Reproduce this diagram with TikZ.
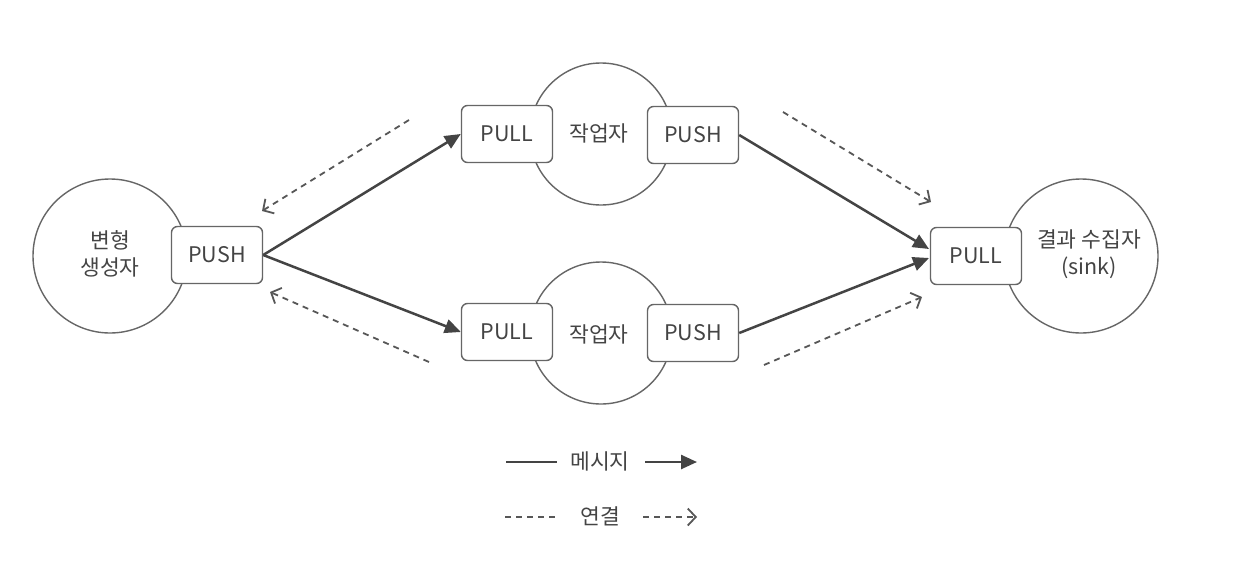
\documentclass[tikz,border=0pt]{standalone}
\usepackage{fontspec}
\setmainfont{Noto Sans CJK KR}
\usetikzlibrary{arrows.meta,calc}
\definecolor{ink}{HTML}{444444}
\definecolor{edge}{HTML}{666666}
\begin{document}
\begin{tikzpicture}[x=1pt,y=-1pt,
  every node/.style={text=ink,font=\fontsize{21.5}{27}\selectfont},
  role/.style={circle,draw=edge,line width=1.4pt,inner sep=0pt,align=center},
  sock/.style={rectangle,rounded corners=6pt,draw=edge,line width=1.4pt,fill=white,minimum width=91pt,minimum height=57pt,inner sep=0pt},
  msg/.style={draw=ink,line width=2.5pt,-{Triangle[length=16pt,width=14pt]}},
  conn/.style={draw=ink!90,line width=1.8pt,dash pattern=on 6pt off 5pt,-{Straight Barb[length=8pt,width=17pt,line width=1.8pt]}}]
\useasboundingbox[fill=white] (0,0) rectangle (1238,568);
% circles
\node[role,minimum size=154pt] (gen) at (110,256) {};
\node[align=center] (gentext) at (110,254) {변형\\생성자};
\node[role,minimum size=142pt] (w1) at (601,134) {};
\node[role,minimum size=142pt] (w2) at (601,333) {};
\node[role,minimum size=154pt] (sink) at (1081,256) {};
% sockets
\node[sock] (gpush) at (217,255) {PUSH};
\node[sock] (w1pull) at (507,134) {PULL};
\node[sock] (w1push) at (693,135) {PUSH};
\node[sock] (w2pull) at (507,332) {PULL};
\node[sock] (w2push) at (693,333) {PUSH};
\node[sock] (spull) at (976,256) {PULL};
% texts
\node (w1t) at (599,133) {작업자};
\node (w2t) at (599,334) {작업자};
\node[align=center] (sinkt) at (1089,254) {결과 수집자\\(sink)};
% message arrows
\coordinate (sin1) at (929,249);
\coordinate (sin2) at (929,258);
\draw[msg] (gpush.east) -- (w1pull.west);
\draw[msg] (gpush.east) -- (w2pull.west);
\draw[msg] (w1push.east) -- (sin1);
\draw[msg] (w2push.east) -- (sin2);
% connection arrows
\coordinate (c1a) at (409,120); \coordinate (c1b) at (262,211);
\coordinate (c2a) at (429,362); \coordinate (c2b) at (270,292);
\coordinate (c3a) at (783,112); \coordinate (c3b) at (931,202);
\coordinate (c4a) at (764,365); \coordinate (c4b) at (922,297);
\draw[conn] (c1a) -- (c1b);
\draw[conn] (c2a) -- (c2b);
\draw[conn] (c3a) -- (c3b);
\draw[conn] (c4a) -- (c4b);
% legend
\coordinate (l1a) at (506,462); \coordinate (l1b) at (557,462);
\coordinate (l1c) at (645,462); \coordinate (l1d) at (697,462);
\node (l1t) at (600,461) {메시지};
\draw[draw=ink,line width=2.5pt] (l1a) -- (l1b);
\draw[msg] (l1c) -- (l1d);
\coordinate (l2a) at (505,517); \coordinate (l2b) at (556,517);
\coordinate (l2c) at (643,517); \coordinate (l2d) at (697,517);
\node (l2t) at (600,516) {연결};
\draw[draw=ink!90,line width=1.8pt,dash pattern=on 6pt off 5pt] (l2a) -- (l2b);
\draw[conn] (l2c) -- (l2d);
\end{tikzpicture}
\end{document}
